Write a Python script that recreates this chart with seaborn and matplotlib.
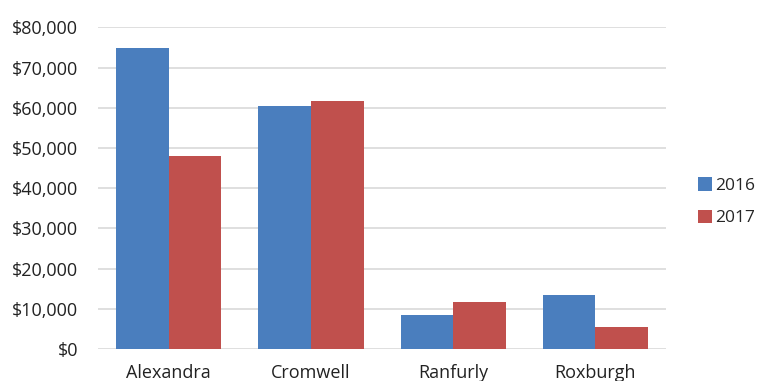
import pandas as pd
import matplotlib.pyplot as plt
import seaborn as sns
from matplotlib.ticker import FuncFormatter

towns = ['Alexandra', 'Cromwell', 'Ranfurly', 'Roxburgh']
years = ['2016', '2017']
values_2016 = [74800, 60400, 8500, 13400]
values_2017 = [48000, 61600, 11700, 5500]

df = pd.DataFrame({
    'town': towns * 2,
    'year': [years[0]] * 4 + [years[1]] * 4,
    'value': values_2016 + values_2017,
})

sns.set_theme(style='white')
plt.rcParams['font.family'] = ['Open Sans', 'DejaVu Sans']

fig = plt.figure(figsize=(7.58, 3.81), dpi=100)
ax = fig.add_axes([0.129, 0.084, 0.75, 0.844])

palette = {'2016': '#4a7ebe', '2017': '#c0504d'}
sns.barplot(data=df, x='town', y='value', hue='year', palette=palette,
            width=0.74, saturation=1, linewidth=0, ax=ax, zorder=3)

ax.set_ylim(0, 80000)
ax.set_yticks(range(0, 80001, 10000))
ax.yaxis.set_major_formatter(FuncFormatter(lambda v, p: f'${v:,.0f}'))
ax.grid(axis='y', color='#dcdcdc', linewidth=1.3, zorder=0)
ax.set_axisbelow(True)
for s in ax.spines.values():
    s.set_visible(False)
ax.tick_params(axis='both', length=0, labelsize=13, colors='#222222')
ax.tick_params(axis='x', pad=11)
ax.tick_params(axis='y', pad=14)
ax.set_xlabel('')
ax.set_ylabel('')

ax.legend_.remove()
handles, labels = ax.get_legend_handles_labels()
fig.legend(handles, labels, loc='center left', bbox_to_anchor=(0.921, 0.47),
           frameon=False, fontsize=12.5, handlelength=0.8, handleheight=0.8,
           handletextpad=0.2, labelspacing=0.9, borderpad=0, borderaxespad=0)

fig.savefig('out.png', dpi=100)
